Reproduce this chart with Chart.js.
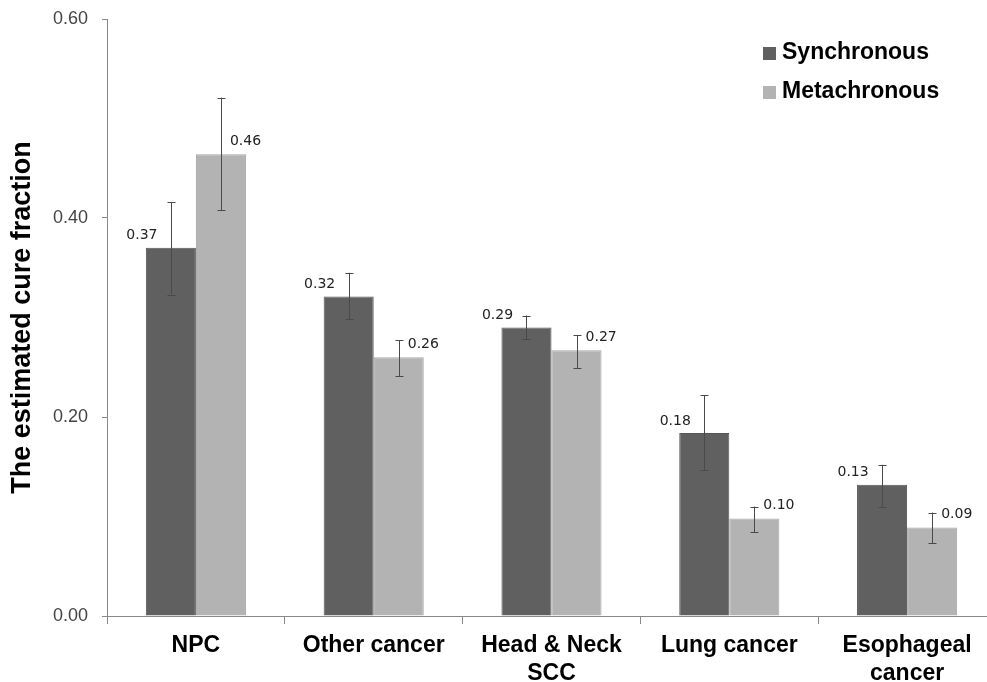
<!DOCTYPE html>
<html>
<head>
<meta charset="utf-8">
<script src="https://cdn.jsdelivr.net/npm/chart.js@4.4.0/dist/chart.umd.min.js"></script>
<style>
  html, body { margin: 0; padding: 0; background: #fff; overflow: hidden; }
  #wrap { width: 1000px; height: 682px; }
</style>
</head>
<body>
<div id="wrap"><canvas id="chart"></canvas></div>
<script>
// values
const categories = ['NPC', 'Other cancer', ['Head & Neck', 'SCC'], 'Lung cancer', ['Esophageal', 'cancer']];
const synchronous = [0.370, 0.321, 0.290, 0.184, 0.132];
const synchronousLow = [0.323, 0.298, 0.278, 0.147, 0.110];
const synchronousHigh = [0.416, 0.345, 0.302, 0.222, 0.152];
const metachronous = [0.464, 0.260, 0.267, 0.098, 0.089];
const metachronousLow = [0.408, 0.241, 0.249, 0.084, 0.073];
const metachronousHigh = [0.521, 0.277, 0.282, 0.110, 0.104];
const yTicks = [0, 0.2, 0.4, 0.6];

const errorLows = [synchronousLow, metachronousLow];
const errorHighs = [synchronousHigh, metachronousHigh];

// error bars + value labels
const extras = {
    id: 'extras',
    afterDatasetsDraw(chart) {
        const ctx = chart.ctx;
        const y = chart.scales.y;
        ctx.save();
        chart.data.datasets.forEach((ds, di) => {
            const meta = chart.getDatasetMeta(di);
            meta.data.forEach((bar, i) => {
                const hi = y.getPixelForValue(errorHighs[di][i]);
                const lo = y.getPixelForValue(errorLows[di][i]);
                const x = Math.round(bar.x) + 0.5;
                ctx.strokeStyle = '#4a4a4a';
                ctx.lineWidth = 1;
                ctx.beginPath();
                ctx.moveTo(x, hi); ctx.lineTo(x, lo);
                ctx.moveTo(x - 4, Math.round(hi) + 0.5); ctx.lineTo(x + 4, Math.round(hi) + 0.5);
                ctx.moveTo(x - 4, Math.round(lo) + 0.5); ctx.lineTo(x + 4, Math.round(lo) + 0.5);
                ctx.stroke();

                ctx.fillStyle = '#222';
                ctx.font = '14px "DejaVu Sans"';
                ctx.textBaseline = 'middle';
                const txt = ds.data[i].toFixed(2);
                if (di === 0) {
                    ctx.textAlign = 'center';
                    ctx.fillText(txt, bar.x - 29, bar.y - 12);
                } else {
                    ctx.textAlign = 'left';
                    ctx.fillText(txt, bar.x + 9, bar.y - 13);
                }
            });
        });

        // legend inside plot, top right
        ctx.font = 'bold 23px "Liberation Sans", Arial';
        ctx.textAlign = 'left';
        ctx.textBaseline = 'middle';
        chart.data.datasets.forEach((ds, di) => {
            const ly = 53 + di * 39;
            ctx.fillStyle = ds.backgroundColor;
            ctx.fillRect(763, ly - 6, 13, 13);
            ctx.fillStyle = '#000';
            ctx.fillText(ds.label, 782, ly);
        });
        ctx.restore();
    }
};

new Chart(document.getElementById('chart'), {
    type: 'bar',
    data: {
        labels: categories,
        datasets: [
            {
                label: 'Synchronous',
                data: synchronous,
                backgroundColor: '#606060',
                borderColor: '#555555',
                borderWidth: 1
            },
            {
                label: 'Metachronous',
                data: metachronous,
                backgroundColor: '#b3b3b3',
                borderColor: '#a6a6a6',
                borderWidth: 1
            }
        ]
    },
    options: {
        responsive: true,
        maintainAspectRatio: false,
        animation: false,
        layout: { padding: { top: 19, right: 4, left: 0, bottom: 0 } },
        plugins: {
            legend: { display: false },
            tooltip: { enabled: false }
        },
        datasets: {
            bar: { categoryPercentage: 0.563, barPercentage: 1.0 }
        },
        scales: {
            x: {
                grid: {
                    display: true,
                    drawOnChartArea: false,
                    drawTicks: true,
                    tickLength: 8,
                    color: '#888'
                },
                border: { color: '#888' },
                ticks: {
                    color: '#000',
                    font: { family: '"Liberation Sans", Arial', size: 23, weight: 'bold', lineHeight: 1.2 },
                    padding: 8,
                    maxRotation: 0,
                    autoSkip: false
                },
                afterFit(scale) { scale.height = 66; }
            },
            y: {
                min: 0,
                max: 0.6,
                afterBuildTicks(scale) { scale.ticks = yTicks.map(v => ({ value: v })); },
                grid: {
                    drawOnChartArea: false,
                    drawTicks: true,
                    tickLength: 5,
                    color: '#888'
                },
                border: { color: '#888' },
                ticks: {
                    color: '#444',
                    font: { family: '"Liberation Sans", Arial', size: 18 },
                    padding: 14,
                    callback: v => v.toFixed(2)
                },
                title: {
                    display: true,
                    text: 'The estimated cure fraction',
                    color: '#000',
                    font: { family: '"Liberation Sans", Arial', size: 27, weight: 'bold', lineHeight: 1.2 },
                    padding: { top: 6, bottom: 0 }
                },
                afterFit(scale) {
                    scale.width = 107;
                    scale.paddingTop = 0;
                    scale.paddingBottom = 0;
                }
            }
        }
    },
    plugins: [extras]
});
</script>
</body>
</html>
